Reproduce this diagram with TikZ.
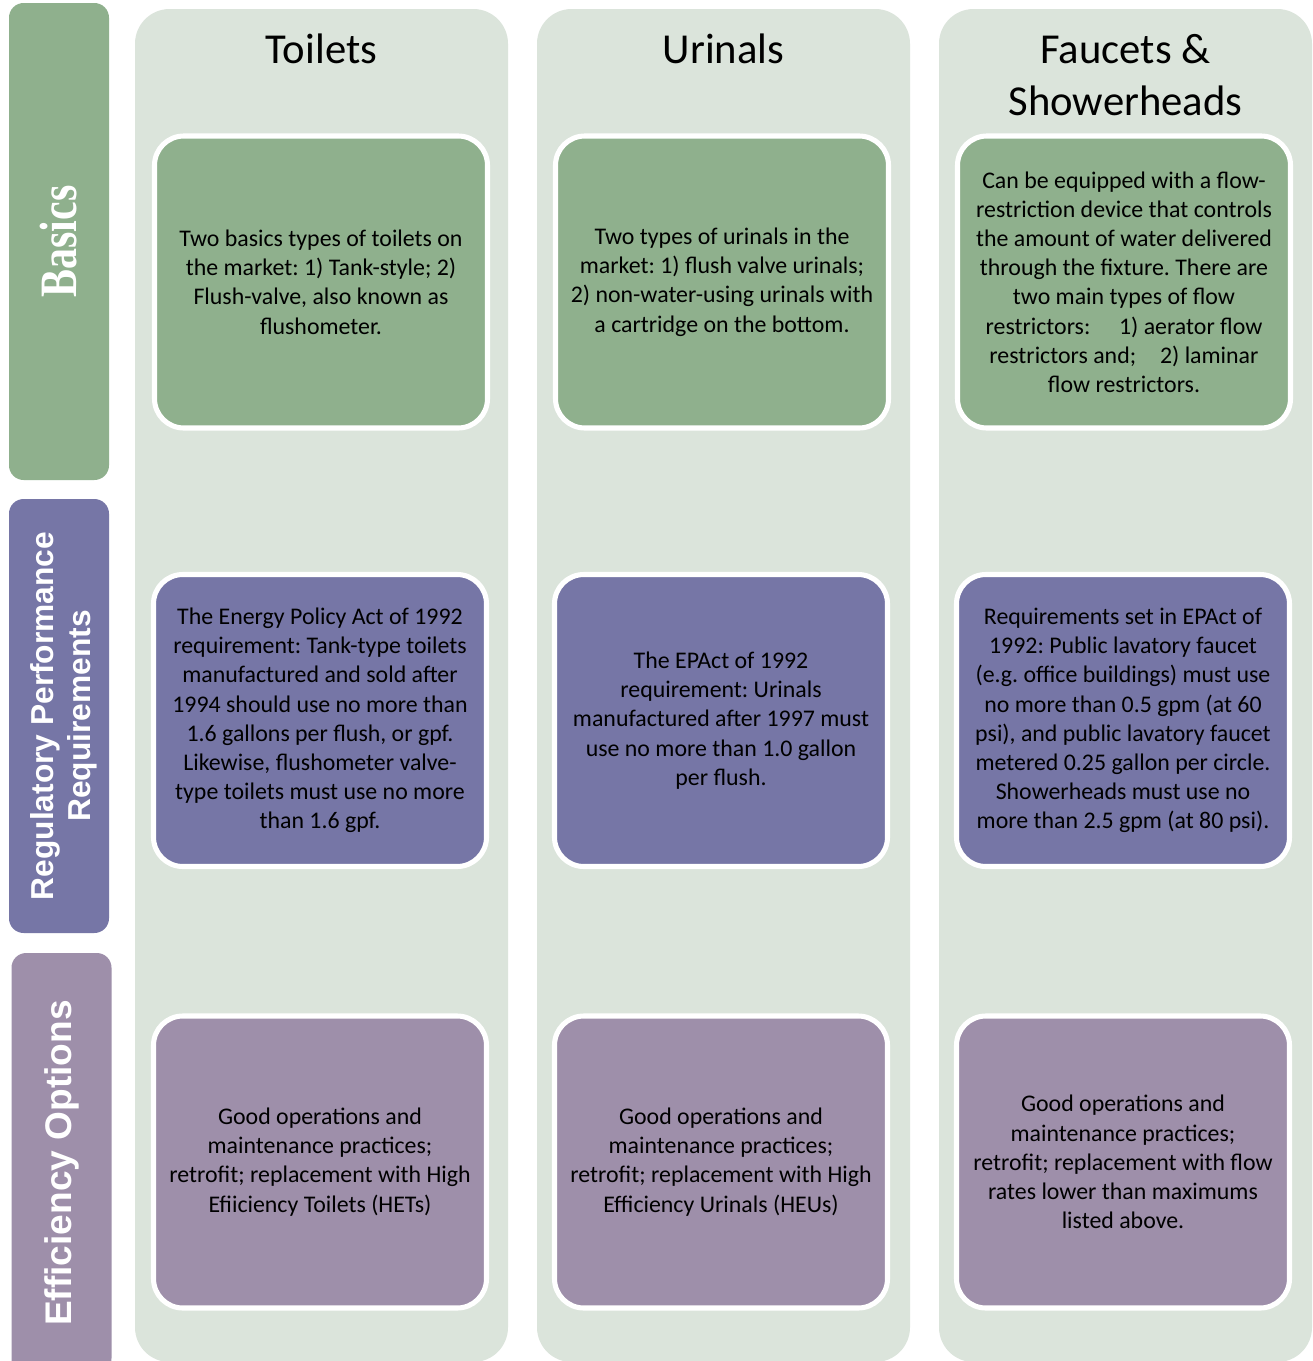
\documentclass[tikz,border=0pt]{standalone}
\usepackage{fontspec}
\setmainfont{Carlito}
\newfontfamily\lblsans{Liberation Sans}
\newfontfamily\lblserif{Liberation Serif}
\definecolor{colbg}{RGB}{219,228,219}
\definecolor{basicgreen}{RGB}{143,176,141}
\definecolor{regpurple}{RGB}{118,118,166}
\definecolor{effmauve}{RGB}{158,143,170}
\tikzset{
  colbox/.style={fill=colbg, draw=none, rounded corners=26pt, minimum width=279.75pt, minimum height=1014.75pt, inner sep=0pt},
  cell/.style={draw=white, line width=3.8pt, rounded corners=22pt, minimum width=249.75pt, minimum height=219pt, inner sep=0pt, align=center, font=\fontsize{17.9pt}{21.9pt}\selectfont, text=black},
  lbl/.style={draw=none, rounded corners=11pt, rotate=90, minimum height=75pt, inner sep=0pt, align=center, text=white},
  title/.style={anchor=base, align=center, font=\fontsize{32pt}{39pt}\selectfont, text=black}
}
\begin{document}
\frenchspacing
\begin{tikzpicture}[x=0.75pt,y=-0.75pt]
\useasboundingbox (0,0) rectangle (1313,1361);
\fill[white] (0,0) rectangle (1313,1361);
\begin{scope}
\clip (0,0) rectangle (1313,1361);
% left labels
\node[lbl, fill=basicgreen, minimum width=357.75pt, font=\lblserif\bfseries\fontsize{31.5pt}{36pt}\selectfont] (lbasics) at (59,241.5)
  {\scalebox{1}[1.25]{Basics}};
\node[lbl, fill=regpurple, minimum width=325.5pt, font=\lblsans\bfseries\fontsize{23.8pt}{27.8pt}\selectfont] (lreg) at (59,716)
  {\raisebox{-4pt}[\height][\depth]{\begin{tabular}{@{}c@{}}Regulatory Performance\\Requirements\end{tabular}}};
\node[lbl, fill=effmauve, minimum width=315pt, font=\lblsans\bfseries\fontsize{27.8pt}{32pt}\selectfont] (leff) at (61.5,1163)
  {Efficiency Options};
% columns
\node[colbox] (ctoi) at (321.5,685.5) {};
\node[colbox] (curi) at (723.5,685.5) {};
\node[colbox] (cfau) at (1125.5,685.5) {};
\end{scope}
% titles
\node[title] (ttoi) at (321.5,63) {Toilets};
\node[title] (turi) at (723.5,63) {Urinals};
\node[title] (tfau) at (1125.5,115) {Faucets \&\\Showerheads};
% row 1
\node[cell, fill=basicgreen] (b1) at (321,282) {Two basics types of toilets on\\the market: 1) Tank-style; 2)\\Flush-valve, also known as\\flushometer.};
\node[cell, fill=basicgreen] (b2) at (722,282) {Two types of urinals in the\\market: 1) flush valve urinals;\\2) non-water-using urinals with\\a cartridge on the bottom.};
\node[cell, fill=basicgreen] (b3) at (1124,282) {Can be equipped with a flow-\\restriction device that controls\\the amount of water delivered\\through the fixture. There are\\two main types of flow\\restrictors:\hspace{1.2em}1) aerator flow\\restrictors and;\hspace{1em}2) laminar\\flow restrictors.};
% row 2
\node[cell, fill=regpurple] (r1) at (320,720.5) {The Energy Policy Act of 1992\\requirement: Tank-type toilets\\manufactured and sold after\\1994 should use no more than\\1.6 gallons per flush, or gpf.\\Likewise, flushometer valve-\\type toilets must use no more\\than 1.6 gpf.};
\node[cell, fill=regpurple] (r2) at (721,720.5) {The EPAct of 1992\\requirement: Urinals\\manufactured after 1997 must\\use no more than 1.0 gallon\\per flush.};
\node[cell, fill=regpurple] (r3) at (1123,720.5) {Requirements set in EPAct of\\1992: Public lavatory faucet\\(e.g. office buildings) must use\\no more than 0.5 gpm (at 60\\psi), and public lavatory faucet\\metered 0.25 gallon per circle.\\Showerheads must use no\\more than 2.5 gpm (at 80 psi).};
% row 3
\node[cell, fill=effmauve] (e1) at (320,1162) {Good operations and\\maintenance practices;\\retrofit; replacement with High\\Efiiciency Toilets (HETs)};
\node[cell, fill=effmauve] (e2) at (721,1162) {Good operations and\\maintenance practices;\\retrofit; replacement with High\\Efficiency Urinals (HEUs)};
\node[cell, fill=effmauve] (e3) at (1123,1162) {Good operations and\\maintenance practices;\\retrofit; replacement with flow\\rates lower than maximums\\listed above.};
\end{tikzpicture}
\end{document}
